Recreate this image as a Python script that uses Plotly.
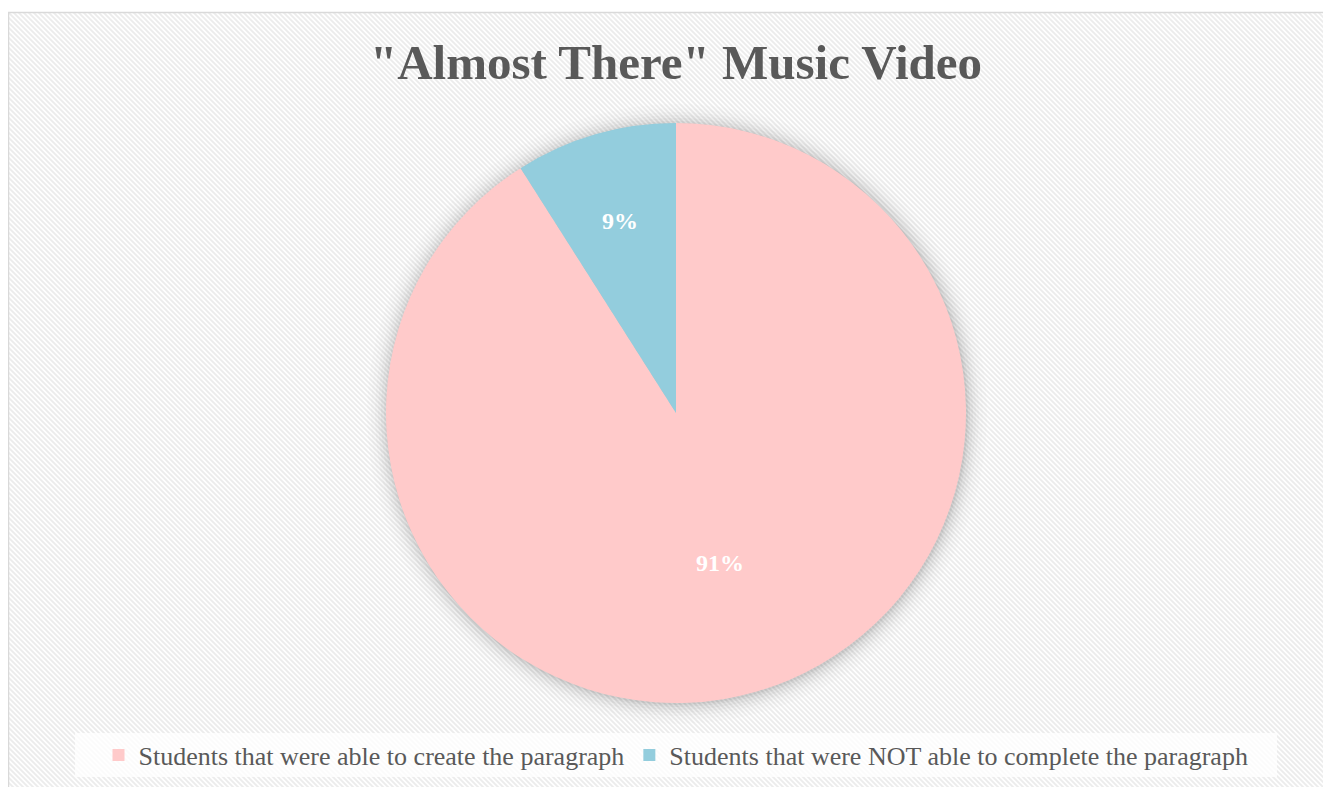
import math
import plotly.graph_objects as go

labels = ["Students that were able to create the paragraph",
          "Students that were NOT able to complete the paragraph"]
values = [91, 9]
colors = ["#FFCACA", "#93CDDD"]
title_text = '"Almost There" Music Video'

W, H = 1331, 787
OFF = 8  # page body margin
FONT = "Liberation Serif"

def px(x):
    return (x - OFF) / W

def py(y):
    return 1 - (y - OFF) / H

cx, cy, r = 676, 413, 290
label_radius = [0.54, 0.69]  # fraction of radius where each percentage label sits

svg = (
    "<svg xmlns='http://www.w3.org/2000/svg' width='1323' height='775' preserveAspectRatio='none'>"
    "<defs><pattern id='p' width='5' height='5' patternUnits='userSpaceOnUse'>"
    "<rect width='5' height='5' fill='white'/>"
    "<path d='M-1,-1 L6,6 M-1,4 L1,6 M4,-1 L6,1' stroke='%23ECECEC' stroke-width='1.8'/>"
    "</pattern></defs>"
    "<rect width='1323' height='775' fill='url(%23p)'/></svg>"
)
src = "data:image/svg+xml;utf8," + svg.replace("<", "%3C").replace(">", "%3E").replace(" ", "%20").replace("'", "%27")

fig = go.Figure()
fig.add_trace(go.Pie(
    labels=labels, values=values, sort=False, direction="clockwise", rotation=0,
    marker=dict(colors=colors, line=dict(width=0)),
    textinfo="none",
    domain=dict(x=[px(cx - r), px(cx + r)], y=[py(cy + r), py(cy - r)]),
    hoverinfo="label+percent",
))

# percentage labels placed at each slice's mid-angle (derived from the values)
total = sum(values)
annotations = []
cum = 0
for v, lr in zip(values, label_radius):
    mid = (cum + v / 2) / total * 2 * math.pi
    cum += v
    lx = cx + lr * r * math.sin(mid)
    ly = cy - lr * r * math.cos(mid)
    annotations.append(dict(text=f"<b>{round(100 * v / total)}%</b>", x=px(lx), y=py(ly),
                            xref="paper", yref="paper", showarrow=False,
                            xanchor="center", yanchor="middle",
                            font=dict(family=FONT, size=24, color="white")))

shapes = [
    dict(type="rect", xref="paper", yref="paper", x0=px(8.5), x1=px(1338), y0=py(795), y1=py(12.5),
         line=dict(color="#D9D9D9", width=1.5), fillcolor="rgba(0,0,0,0)", layer="below"),
]
# soft shadow around pie
for k, op in [(20, 0.01), (16, 0.012), (12, 0.018), (9, 0.022), (6, 0.03), (3, 0.04), (1, 0.05)]:
    shapes.append(dict(type="circle", xref="paper", yref="paper",
                       x0=px(cx - r - k + 1), x1=px(cx + r + k + 1),
                       y0=py(cy + r + k + 1), y1=py(cy - r - k + 1),
                       line=dict(width=0), fillcolor=f"rgba(0,0,0,{op})", layer="below"))
# legend box
shapes.append(dict(type="rect", xref="paper", yref="paper", x0=px(75), x1=px(1277), y0=py(777), y1=py(733),
                   line=dict(width=0), fillcolor="rgba(255,255,255,0.8)", layer="below"))

fig.update_layout(
    width=W, height=H,
    margin=dict(l=0, r=0, t=0, b=0),
    paper_bgcolor="white", plot_bgcolor="white",
    images=[dict(source=src, xref="paper", yref="paper", x=px(8), y=py(12),
                 sizex=1323 / W, sizey=775 / H, xanchor="left", yanchor="top",
                 sizing="stretch", layer="below")],
    shapes=shapes,
    annotations=annotations,
    title=dict(text="<b>" + title_text + "</b>", x=px(676), xanchor="center",
               y=py(62), yanchor="middle", xref="paper", yref="paper",
               font=dict(family=FONT, size=49, color="#595959")),
    showlegend=True,
    legend=dict(orientation="h", x=px(676), xanchor="center", y=py(755), yanchor="middle",
                bgcolor="rgba(0,0,0,0)", font=dict(family=FONT, size=26, color="#595959"),
                itemsizing="constant", itemwidth=30, traceorder="normal"),
)

fig.write_html("out.html")
